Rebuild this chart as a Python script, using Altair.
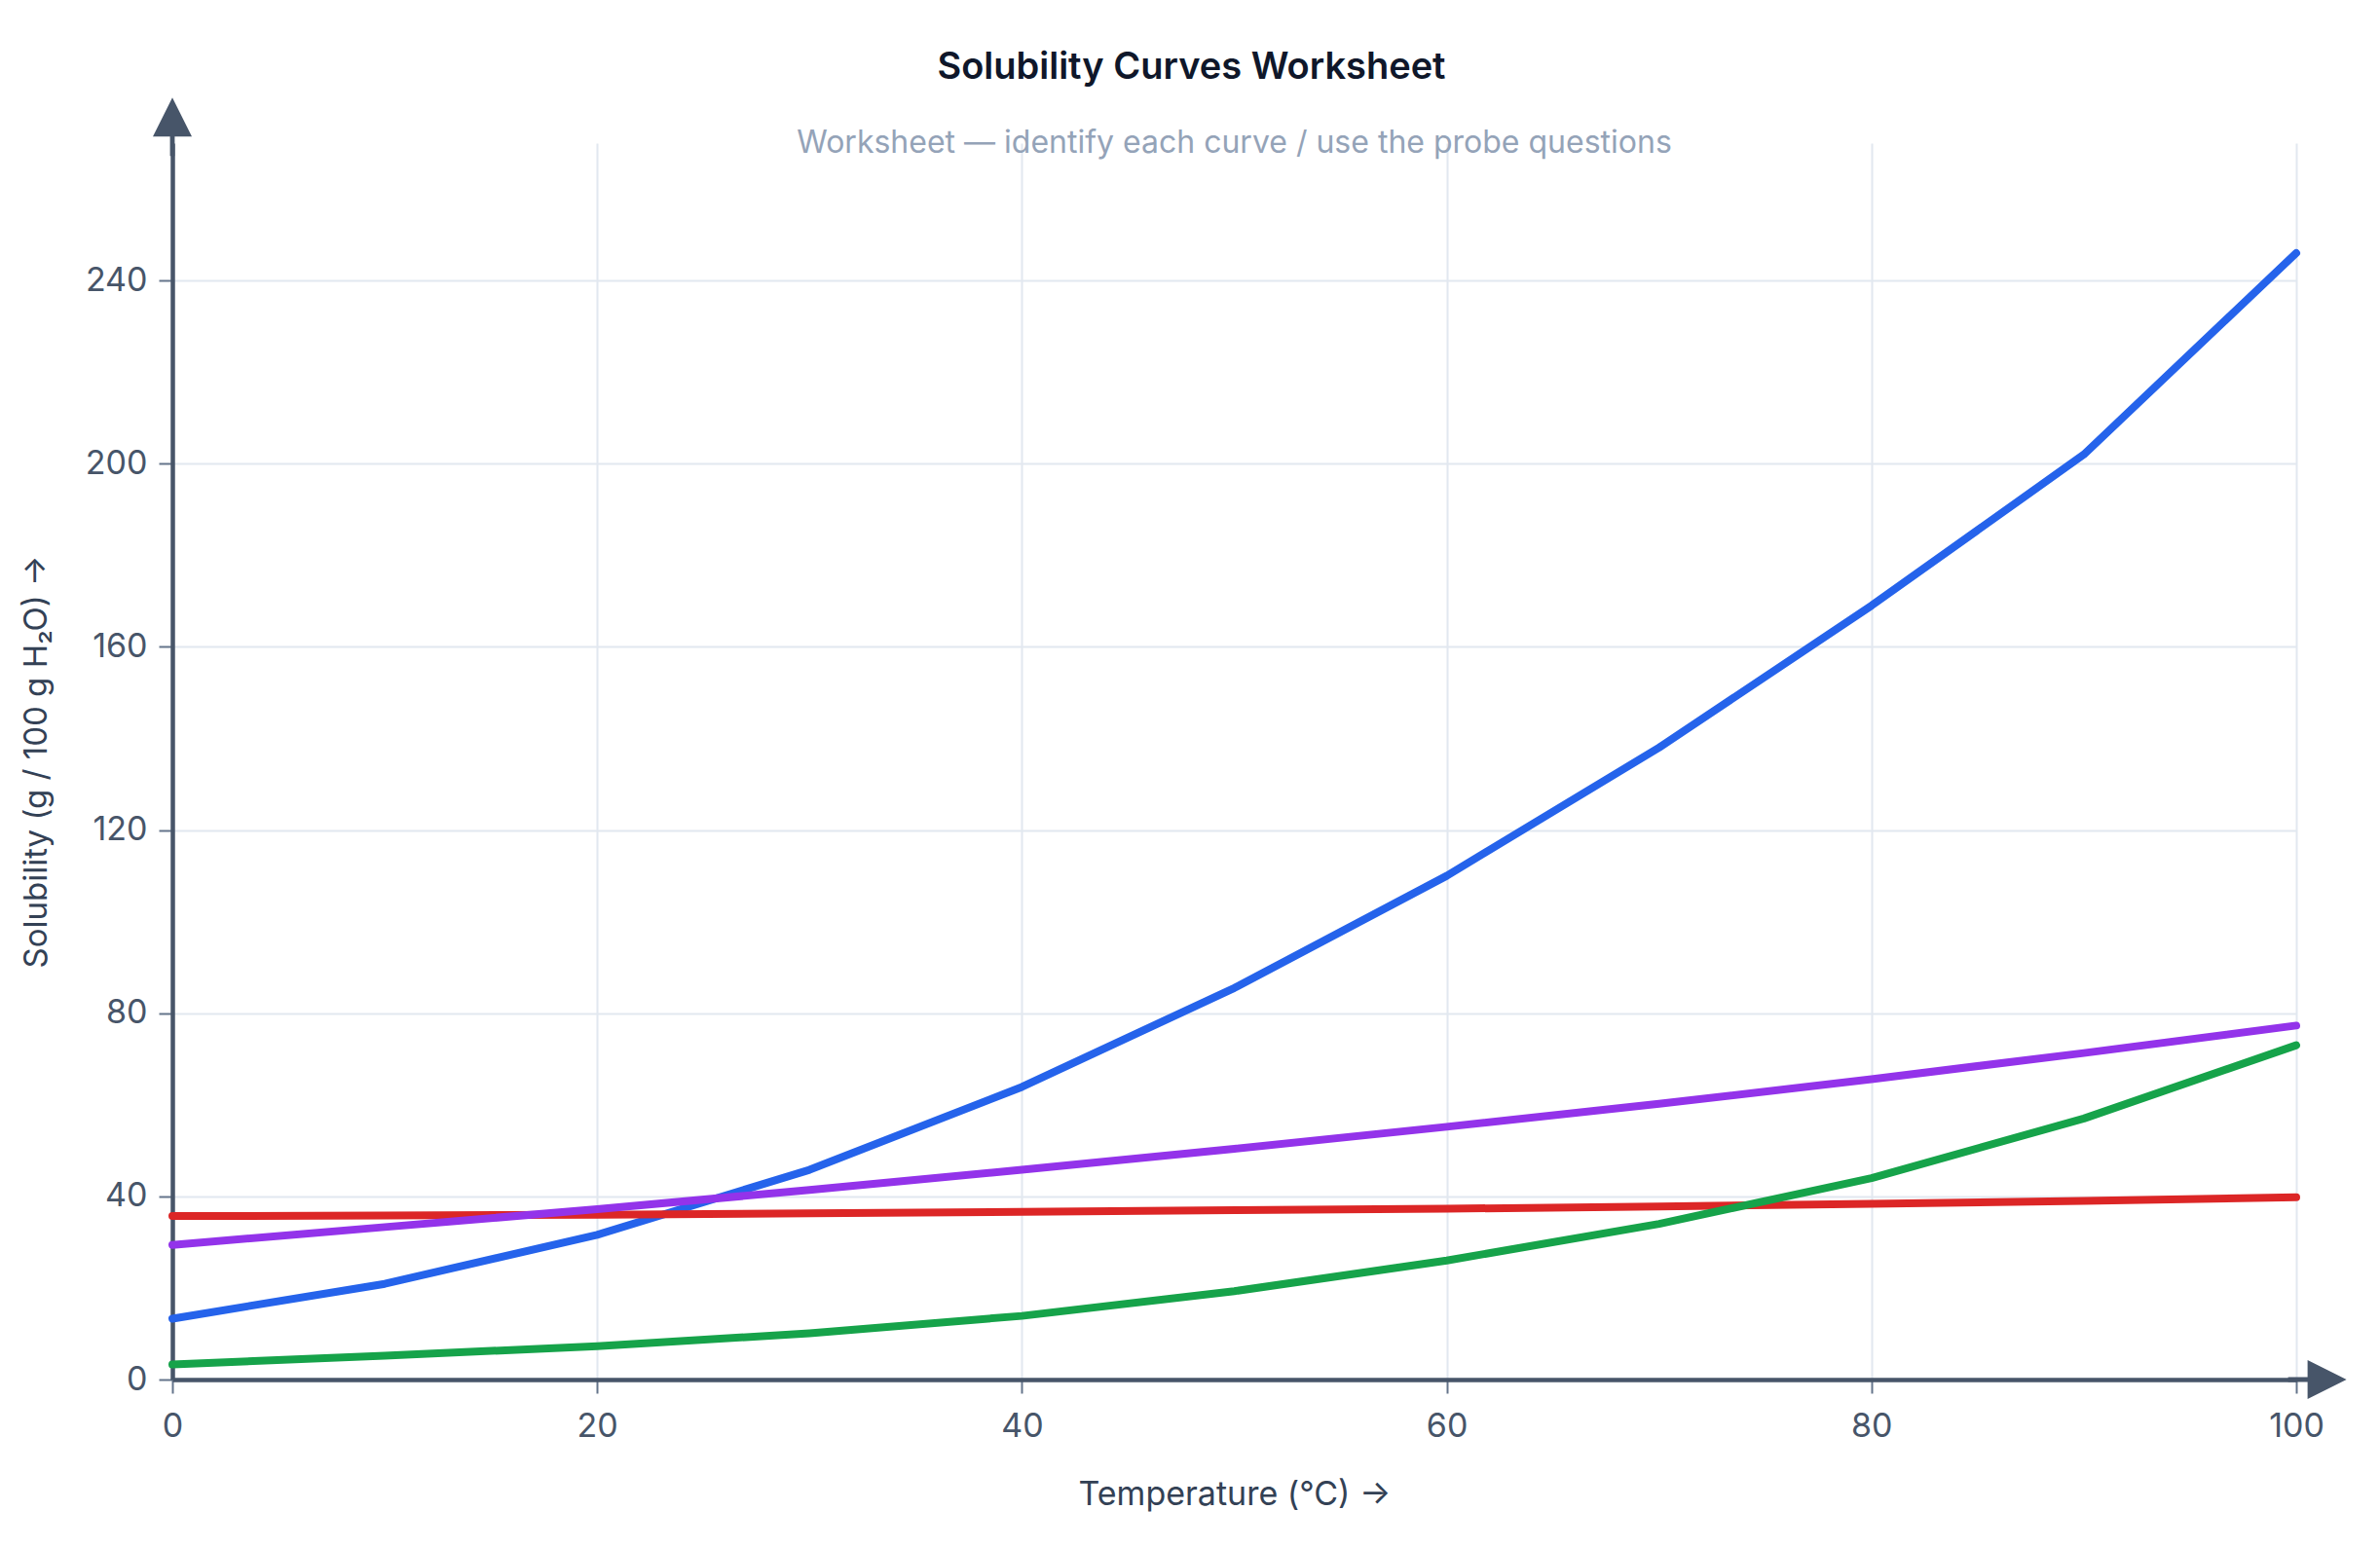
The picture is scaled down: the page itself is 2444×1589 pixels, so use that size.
import altair as alt
import pandas as pd

# ---- data ----
temps = [0, 10, 20, 30, 40, 50, 60, 70, 80, 90, 100]
series_names = ["KNO₃", "NaCl", "NH₄Cl", "KClO₃"]
series_colors = ["#2563eb", "#dc2626", "#9333ea", "#16a34a"]
kno3 = [13.3, 20.9, 31.6, 45.8, 63.9, 85.5, 110.0, 138.0, 169.0, 202.0, 246.0]
nacl = [35.7, 35.8, 36.0, 36.3, 36.6, 37.0, 37.3, 37.8, 38.4, 39.0, 39.8]
nh4cl = [29.4, 33.3, 37.2, 41.4, 45.8, 50.4, 55.2, 60.2, 65.6, 71.3, 77.3]
kclo3 = [3.3, 5.2, 7.3, 10.1, 13.9, 19.3, 26.0, 34.0, 44.0, 57.0, 73.0]
x_ticks = [0, 20, 40, 60, 80, 100]
y_ticks = [0, 40, 80, 120, 160, 200, 240]

title_text = "Solubility Curves Worksheet"
subtitle_text = "Worksheet — identify each curve / use the probe questions"
x_title = "Temperature (°C) →"
y_title = "Solubility (g / 100 g H₂O) →"

rows = []
for name, vals in zip(series_names, [kno3, nacl, nh4cl, kclo3]):
    for t, v in zip(temps, vals):
        rows.append({"Temperature": t, "Solubility": v, "Series": name})
df = pd.DataFrame(rows)

W, H = 2181, 1270
FONT = "Inter"
AXIS_COLOR = "#475569"

x_scale = alt.Scale(domain=[0, 100], nice=False, zero=False)
y_scale = alt.Scale(domain=[0, 270], nice=False, zero=False)

x_enc = alt.X(
    "Temperature:Q",
    scale=x_scale,
    axis=alt.Axis(values=x_ticks, title=x_title, labelPadding=17, titlePadding=36,
                  labelFlush=False, titleFontSize=34),
)
y_enc = alt.Y(
    "Solubility:Q",
    scale=y_scale,
    axis=alt.Axis(values=y_ticks, title=y_title, labelPadding=12, titlePadding=33,
                  labelFlush=False, titleFontSize=33),
)

lines = alt.Chart(df).mark_line(
    strokeWidth=8, strokeCap="round", strokeJoin="round"
).encode(
    x=x_enc,
    y=y_enc,
    color=alt.Color(
        "Series:N",
        scale=alt.Scale(domain=series_names, range=series_colors),
        sort=series_names,
        legend=None,
    ),
)

# arrow heads at the end of each axis
y_arrow = alt.Chart(pd.DataFrame({"a": [1]})).mark_point(
    shape="M0,-1L1,1L0.12,1L0.12,2L-0.12,2L-0.12,1L-1,1Z",
    size=1600, filled=True, opacity=1, color=AXIS_COLOR, strokeWidth=0,
).encode(x=alt.datum(0, scale=x_scale), y=alt.datum(275.7, scale=y_scale))

x_arrow = alt.Chart(pd.DataFrame({"a": [1]})).mark_point(
    shape="M1,0L-1,-1L-1,-0.12L-2,-0.12L-2,0.12L-1,0.12L-1,1Z",
    size=1600, filled=True, opacity=1, color=AXIS_COLOR, strokeWidth=0,
).encode(x=alt.datum(101.45, scale=x_scale), y=alt.datum(0, scale=y_scale))

subtitle = alt.Chart(pd.DataFrame({"a": [1]})).mark_text(
    text=subtitle_text, font=FONT, fontSize=32, color="#94a3b8",
    align="center", baseline="middle",
).encode(x=alt.datum(50, scale=x_scale), y=alt.datum(270, scale=y_scale))

chart = alt.layer(lines, subtitle, y_arrow, x_arrow).properties(
    width=W,
    height=H,
    autosize=alt.AutoSizeParams(type="none"),
    padding={"left": 177, "top": 147, "right": 86, "bottom": 172},
    title=alt.Title(
        title_text,
        font=FONT, fontSize=38, fontWeight=600, color="#0f172a",
        anchor="middle", offset=11, dx=-44,
    ),
    background="white",
).configure_view(
    stroke=None
).configure_axis(
    domainColor=AXIS_COLOR,
    domainWidth=4.5,
    tickColor="#64748b",
    tickWidth=2,
    tickSize=14,
    gridColor="#e2e8f0",
    gridWidth=2,
    labelFont=FONT,
    labelFontSize=34,
    labelColor=AXIS_COLOR,
    titleFont=FONT,
    titleFontSize=35,
    titleFontWeight="normal",
    titleColor="#334155",
)

chart.save("out.html", embed_options={"renderer": "svg", "actions": False})
